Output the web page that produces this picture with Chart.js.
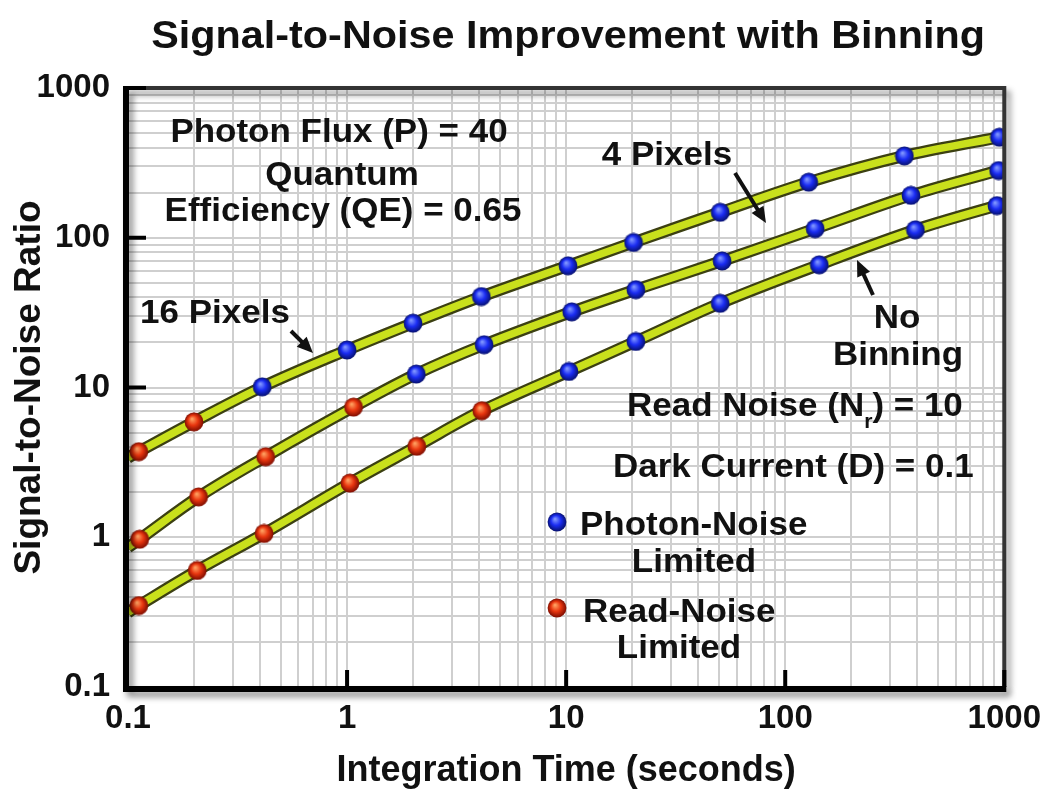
<!DOCTYPE html>
<html>
<head>
<meta charset="utf-8">
<script src="https://cdn.jsdelivr.net/npm/chart.js@4/dist/chart.umd.min.js"></script>
<style>
  html, body { margin: 0; padding: 0; background: #fff; }
  #wrap { width: 1053px; height: 793px; }
</style>
</head>
<body>
<div id="wrap"><canvas id="snr-chart" width="1053" height="793"></canvas></div>
<script>
const FONT = "'Liberation Sans', Arial, Helvetica, sans-serif";

const time16 = [0.112, 0.2, 0.41, 1.0, 2.0, 4.1, 10.2, 20.3, 50.5, 128, 350, 950];
const snr16 = [3.73, 5.9, 10.1, 17.8, 26.9, 40.5, 65, 93, 148, 235, 352, 469];
const time4 = [0.113, 0.21, 0.425, 1.07, 2.07, 4.22, 10.6, 20.8, 51.5, 137, 375, 942];
const snr4 = [0.97, 1.86, 3.45, 7.4, 12.3, 19.3, 32, 45, 70, 115, 192, 281];
const time1 = [0.112, 0.207, 0.418, 1.03, 2.08, 4.12, 10.3, 20.8, 50.5, 143, 393, 926];
const snr1 = [0.35, 0.6, 1.06, 2.3, 4.05, 7.0, 12.8, 20.3, 36.5, 66, 113, 164];
// how many of the first markers on each curve are read-noise limited
const readLimited = [2, 4, 6];
// curve value at the left (0.1 s) and right (1000 s) edge of the plot
const curveStart = [3.4, 0.855, 0.315];
const curveEnd = [482, 288, 169];
const curveNames = ['16 Pixels', '4 Pixels', 'No Binning'];

const decadeTicks = [0.1, 1, 10, 100, 1000];
const minorSteps = [1, 2, 3, 4, 5, 6, 7, 8, 9];

function makeBall(light, mid, dark) {
    const c = document.createElement('canvas');
    c.width = 20;
    c.height = 20;
    const g = c.getContext('2d');
    const grad = g.createRadialGradient(8, 7, 0.5, 10, 10, 9.5);
    grad.addColorStop(0, light);
    grad.addColorStop(0.5, mid);
    grad.addColorStop(1, dark);
    g.fillStyle = grad;
    g.beginPath();
    g.arc(10, 10, 9.4, 0, Math.PI * 2);
    g.fill();
    return c;
}
const blueBall = makeBall('#8096ff', '#1a2cf2', '#06106e');
const redBall = makeBall('#ffa060', '#e8360f', '#7c0c00');

function gridValues() {
    const vals = [];
    decadeTicks.slice(0, -1).forEach(d => minorSteps.forEach(m => vals.push(+(m * d).toPrecision(3))));
    vals.push(1000);
    return vals;
}

function curvePoints(times, snr, i) {
    const pts = [{ x: 0.1, y: curveStart[i], kind: 'end' }];
    times.forEach((t, k) => pts.push({ x: t, y: snr[k], kind: k < readLimited[i] ? 'read' : 'photon' }));
    pts.push({ x: 1000, y: curveEnd[i], kind: 'end' });
    return pts;
}

const curves = [
    curvePoints(time16, snr16, 0),
    curvePoints(time4, snr4, 1),
    curvePoints(time1, snr1, 2)
];

const datasets = [];
curves.forEach((pts, i) => {
    datasets.push({
        label: curveNames[i] + ' outline',
        data: pts,
        borderColor: '#3c4012',
        borderWidth: 12,
        pointRadius: 0,
        tension: 0.35,
        order: 3
    });
    datasets.push({
        label: curveNames[i],
        data: pts,
        borderColor: '#c9e01c',
        borderWidth: 7.5,
        tension: 0.35,
        pointRadius: ctx => ctx.raw && ctx.raw.kind === 'end' ? 0 : 9,
        pointStyle: ctx => ctx.raw && ctx.raw.kind === 'read' ? redBall : blueBall,
        order: 2
    });
});

function text(ctx, str, x, y, align, size) {
    ctx.save();
    ctx.font = 'bold ' + (size || 33) + 'px ' + FONT;
    ctx.fillStyle = '#111';
    ctx.textAlign = align || 'center';
    ctx.textBaseline = 'alphabetic';
    ctx.translate(x, y);
    ctx.scale(1.06, 1);
    ctx.fillText(str, 0, 0);
    ctx.restore();
}

function arrow(ctx, x1, y1, x2, y2) {
    const a = Math.atan2(y2 - y1, x2 - x1);
    ctx.save();
    ctx.strokeStyle = '#111';
    ctx.fillStyle = '#111';
    ctx.lineWidth = 4;
    ctx.beginPath();
    ctx.moveTo(x1, y1);
    ctx.lineTo(x2 - 10 * Math.cos(a), y2 - 10 * Math.sin(a));
    ctx.stroke();
    ctx.translate(x2, y2);
    ctx.rotate(a);
    ctx.beginPath();
    ctx.moveTo(0, 0);
    ctx.lineTo(-16, -7);
    ctx.lineTo(-16, 7);
    ctx.closePath();
    ctx.fill();
    ctx.restore();
}

const decorations = {
    id: 'decorations',
    afterDraw(chart) {
        const ctx = chart.ctx;
        const { left, right, top, bottom } = chart.chartArea;
        const xs = chart.scales.x;
        const ys = chart.scales.y;

        // frame with drop shadow
        ctx.save();
        ctx.shadowColor = 'rgba(0,0,0,0.45)';
        ctx.shadowBlur = 6;
        ctx.shadowOffsetX = 4;
        ctx.shadowOffsetY = 5;
        ctx.strokeStyle = '#333';
        ctx.lineWidth = 4;
        ctx.beginPath();
        ctx.moveTo(left, top);
        ctx.lineTo(right, top);
        ctx.lineTo(right, bottom);
        ctx.stroke();
        ctx.strokeStyle = '#000';
        ctx.lineWidth = 6;
        ctx.beginPath();
        ctx.moveTo(left - 2, top - 2);
        ctx.lineTo(left - 2, bottom + 2);
        ctx.lineTo(right + 2, bottom + 2);
        ctx.stroke();
        ctx.restore();

        // inward decade ticks
        ctx.save();
        ctx.strokeStyle = '#000';
        ctx.lineWidth = 4;
        [1000, 100, 10].forEach(v => {
            const y = ys.getPixelForValue(v);
            ctx.beginPath();
            ctx.moveTo(left, y);
            ctx.lineTo(left + 18, y);
            ctx.stroke();
        });
        [1, 10, 100, 1000].forEach(v => {
            const x = xs.getPixelForValue(v);
            ctx.beginPath();
            ctx.moveTo(x, bottom);
            ctx.lineTo(x, bottom - 17);
            ctx.stroke();
        });
        ctx.restore();

        // title
        text(ctx, 'Signal-to-Noise Improvement with Binning', (left + right) / 2 + 2, 48, 'center', 39);

        // parameter notes
        text(ctx, 'Photon Flux (P) = 40', 339, 142);
        text(ctx, 'Quantum', 342, 185);
        text(ctx, 'Efficiency (QE) = 0.65', 343, 221);

        text(ctx, '16 Pixels', 215, 323);
        text(ctx, '4 Pixels', 667, 165);
        text(ctx, 'No', 897, 328);
        text(ctx, 'Binning', 898, 365);

        arrow(ctx, 291, 331, 313, 353);
        arrow(ctx, 735, 173, 766, 223);
        arrow(ctx, 873, 295, 857, 260);

        // read noise with subscript r
        ctx.save();
        ctx.font = 'bold 33px ' + FONT;
        const s1 = 'Read Noise (N';
        const w1 = ctx.measureText(s1).width * 1.06;
        ctx.font = 'bold 20px ' + FONT;
        const w2 = ctx.measureText('r').width * 1.06;
        ctx.restore();
        text(ctx, s1, 627, 416, 'left');
        text(ctx, 'r', 627 + w1, 428, 'left', 20);
        text(ctx, ') = 10', 627 + w1 + w2, 416, 'left');

        text(ctx, 'Dark Current (D) = 0.1', 613, 477, 'left');

        // marker key
        ctx.drawImage(blueBall, 547, 512);
        text(ctx, 'Photon-Noise', 580, 535, 'left');
        text(ctx, 'Limited', 694, 572);
        ctx.drawImage(redBall, 547, 598);
        text(ctx, 'Read-Noise', 583, 622, 'left');
        text(ctx, 'Limited', 679, 658);
    }
};

const grid = gridValues();
const tickFont = { family: FONT, size: 33, weight: 'bold' };

new Chart(document.getElementById('snr-chart').getContext('2d'), {
    type: 'line',
    data: { datasets: datasets },
    options: {
        responsive: false,
        animation: false,
        events: [],
        layout: { padding: { left: 0, right: 47, top: 88, bottom: 0 } },
        plugins: {
            legend: { display: false },
            tooltip: { enabled: false },
            title: { display: false }
        },
        scales: {
            x: {
                type: 'logarithmic',
                min: 0.1,
                max: 1000,
                afterBuildTicks: scale => { scale.ticks = grid.map(v => ({ value: v })); },
                afterFit: scale => { scale.height = 106; },
                grid: { color: '#cfcfcf', lineWidth: 2, drawTicks: false },
                border: { display: false },
                ticks: {
                    autoSkip: false,
                    maxRotation: 0,
                    padding: 12,
                    color: '#111',
                    font: tickFont,
                    callback: v => decadeTicks.includes(v) ? String(v) : ''
                },
                title: {
                    display: true,
                    text: 'Integration Time (seconds)',
                    color: '#111',
                    font: { family: FONT, size: 36, weight: 'bold' },
                    padding: { top: 0, bottom: 0 }
                }
            },
            y: {
                type: 'logarithmic',
                min: 0.1,
                max: 1000,
                afterBuildTicks: scale => { scale.ticks = grid.map(v => ({ value: v })); },
                afterFit: scale => { scale.width = 128; },
                grid: { color: '#cfcfcf', lineWidth: 2, drawTicks: false },
                border: { display: false },
                ticks: {
                    autoSkip: false,
                    padding: 18,
                    color: '#111',
                    font: tickFont,
                    callback: v => decadeTicks.includes(v) ? String(v) : ''
                },
                title: {
                    display: true,
                    text: 'Signal-to-Noise Ratio',
                    color: '#111',
                    font: { family: FONT, size: 37, weight: 'bold' },
                    padding: { top: 8, bottom: 0 }
                }
            }
        }
    },
    plugins: [decorations]
});
</script>
</body>
</html>
